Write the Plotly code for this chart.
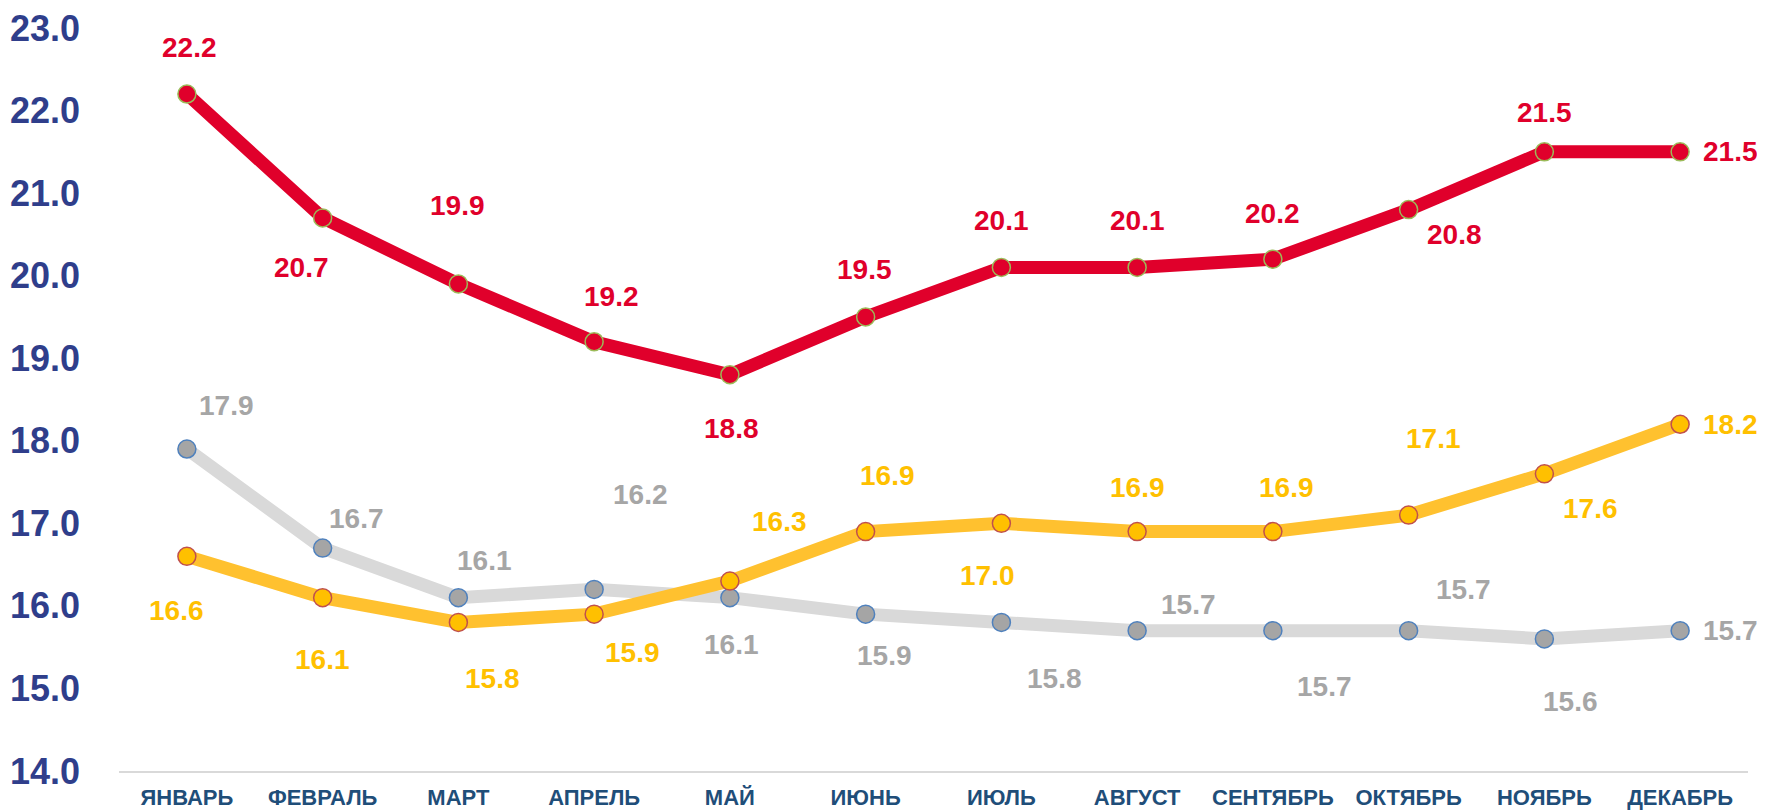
import plotly.graph_objects as go

months = ["ЯНВАРЬ", "ФЕВРАЛЬ", "МАРТ", "АПРЕЛЬ", "МАЙ", "ИЮНЬ", "ИЮЛЬ",
          "АВГУСТ", "СЕНТЯБРЬ", "ОКТЯБРЬ", "НОЯБРЬ", "ДЕКАБРЬ"]
red_vals = [22.2, 20.7, 19.9, 19.2, 18.8, 19.5, 20.1, 20.1, 20.2, 20.8, 21.5, 21.5]
yellow_vals = [16.6, 16.1, 15.8, 15.9, 16.3, 16.9, 17.0, 16.9, 16.9, 17.1, 17.6, 18.2]
gray_vals = [17.9, 16.7, 16.1, 16.2, 16.1, 15.9, 15.8, 15.7, 15.7, 15.7, 15.6, 15.7]
y_ticks = [14, 15, 16, 17, 18, 19, 20, 21, 22, 23]

# label offsets (pixels in the shrunk reference; scaled below)
red_off = [(2, -41), (-19, 44), (-1, -70), (15, -40), (1, 48), (-1, -42), (0, -42),
           (0, -42), (0, -41), (41, 22), (0, -35), (45, 0)]
yellow_off = [(-9, 48), (0, 55), (30, 50), (34, 34), (44, -53), (19, -50), (-12, 46),
              (0, -39), (12, -39), (22, -68), (41, 31), (45, 0)]
gray_off = [(35, -39), (30, -26), (23, -33), (41, -84), (1, 42), (17, 37), (47, 50),
            (46, -23), (46, 50), (49, -37), (23, 56), (45, 0)]
SC = 1765 / 1568

series = [
    dict(vals=gray_vals, line="#D9D9D9", fill="#A5A5A5", edge="#4F81BD", text="#A6A6A6", off=gray_off, w=13),
    dict(vals=yellow_vals, line="#FFC12F", fill="#FFC000", edge="#C0504D", text="#FFC000", off=yellow_off, w=13),
    dict(vals=red_vals, line="#E0002B", fill="#E0002B", edge="#9BBB59", text="#E0002B", off=red_off, w=13),
]

fig = go.Figure()
xs = list(range(len(months)))
annotations = []
for s in series:
    fig.add_trace(go.Scatter(
        x=xs, y=s["vals"], mode="lines+markers",
        line=dict(color=s["line"], width=s["w"], shape="linear"),
        marker=dict(size=18, color=s["fill"], line=dict(color=s["edge"], width=1.5)),
        showlegend=False, cliponaxis=False,
    ))
    for i, v in enumerate(s["vals"]):
        dx, dy = s["off"][i]
        annotations.append(dict(
            x=xs[i], y=v, xref="x", yref="y", text=f"{v:.1f}", showarrow=False,
            xshift=dx * SC, yshift=-dy * SC,
            font=dict(family="Liberation Sans, Arial", size=28, color=s["text"], weight="bold"),
        ))

fig.update_layout(
    width=1757, height=804,
    margin=dict(l=111, r=17, t=20, b=41),
    paper_bgcolor="white", plot_bgcolor="white",
    annotations=annotations,
    xaxis=dict(
        range=[-0.5, 11.5], tickmode="array", tickvals=xs, ticktext=months,
        showgrid=False, zeroline=False, showline=True, linecolor="#D9D9D9", linewidth=2,
        ticks="", automargin=False, ticklabelstandoff=6, ticklabeloverflow="allow",
        tickfont=dict(family="Liberation Sans, Arial", size=22, color="#1F4E79", weight="bold"),
    ),
    yaxis=dict(
        range=[14, 23], tickmode="array", tickvals=y_ticks,
        ticktext=[f"{t:.1f}" for t in y_ticks],
        showgrid=False, zeroline=False, showline=False, ticks="",
        ticklabelstandoff=38, automargin=False, ticklabeloverflow="allow",
        tickfont=dict(family="Liberation Sans, Arial", size=36, color="#2F3E8B", weight="bold"),
    ),
)

fig.write_html("out.html")
